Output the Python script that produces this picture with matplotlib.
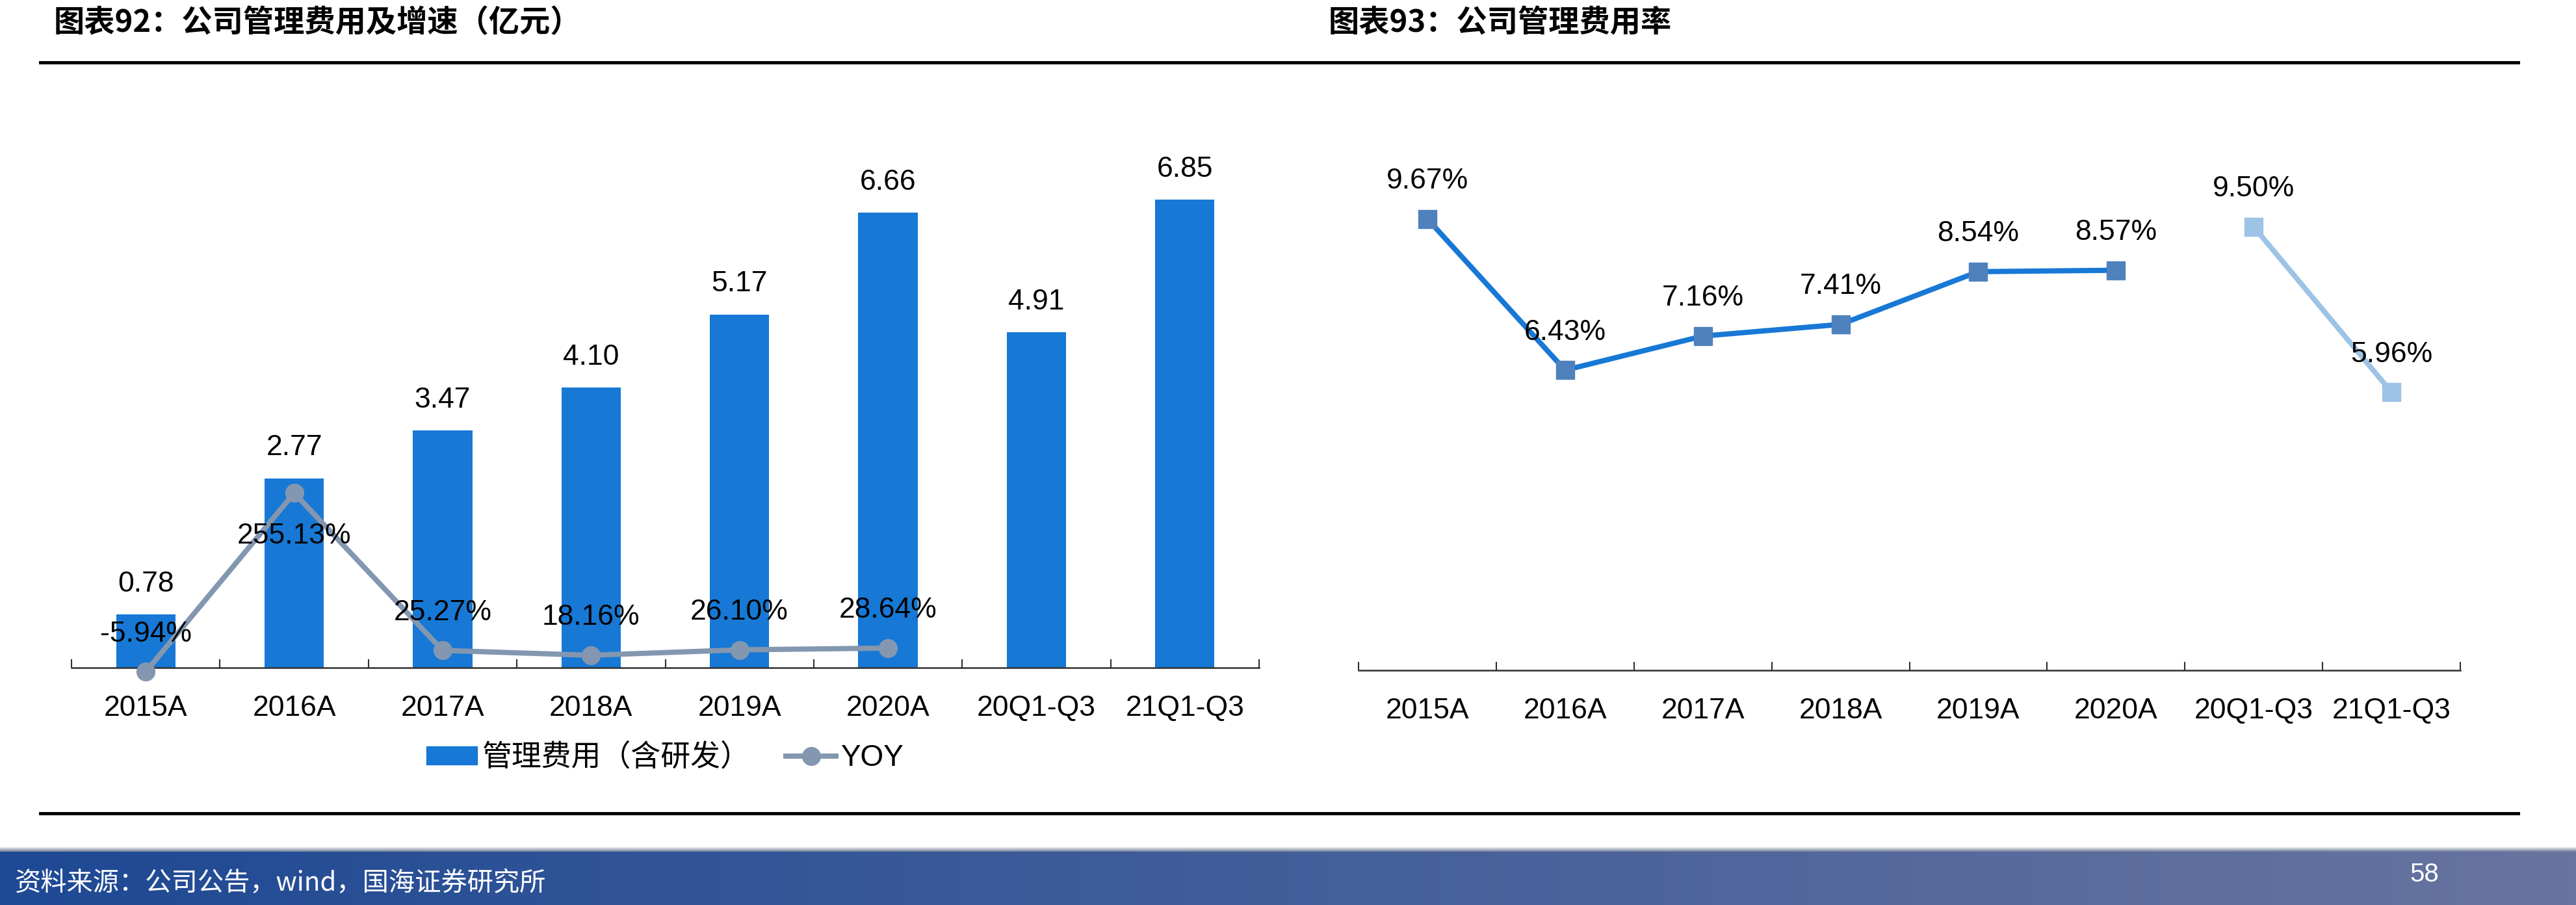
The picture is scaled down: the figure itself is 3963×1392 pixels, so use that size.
import numpy as np
import matplotlib
matplotlib.use("Agg")
import matplotlib.pyplot as plt
from matplotlib.lines import Line2D
from matplotlib.patches import Patch

plt.rcParams['font.family'] = ['Liberation Sans', 'Noto Sans CJK SC', 'DejaVu Sans']

# data
cats = ['2015A', '2016A', '2017A', '2018A', '2019A', '2020A', '20Q1-Q3', '21Q1-Q3']
fee = [0.78, 2.77, 3.47, 4.10, 5.17, 6.66, 4.91, 6.85]          # 亿元
yoy = [-5.94, 255.13, 25.27, 18.16, 26.10, 28.64]               # %
rate_year = [9.67, 6.43, 7.16, 7.41, 8.54, 8.57]                # %
rate_q = [9.50, 5.96]                                           # %

bar_c = '#1778D5'
yoy_c = '#8497B0'
line_c = '#1778D5'
mk_c = '#4F81BD'
light_c = '#9DC3E6'
fs = 32

W, H = 3963, 1392
fig = plt.figure(figsize=(W / 100, H / 100), dpi=100)

def style_axis(ax):
    for s in ['top', 'right', 'left']:
        ax.spines[s].set_visible(False)
    ax.spines['bottom'].set_linewidth(1.8)
    ax.spines['bottom'].set_color('#303030')
    ax.set_yticks([])
    ax.set_xlim(-0.5, len(cats) - 0.5)
    ax.set_xticks(np.arange(-0.5, len(cats)), [''] * (len(cats) + 1))
    ax.tick_params(axis='x', which='major', direction='in', length=9.5, width=1.5, color='#303030')
    ax.set_xticks(np.arange(len(cats)), cats, minor=True)
    ax.tick_params(axis='x', which='minor', length=0, pad=30, labelsize=fs)

# ---- left chart
axL = fig.add_axes([110 / W, 1 - 1027 / H, (1937 - 110) / W, (1027 - 150) / H])
x = np.arange(len(cats))
axL.bar(x, fee, width=0.4, color=bar_c, zorder=1)
axL.set_ylim(0, 877 / 105.1)
style_axis(axL)
for xi, v in zip(x, fee):
    axL.annotate('%.2f' % v, (xi, v), xytext=(0, 19), textcoords='offset points',
                 ha='center', va='bottom', fontsize=fs)

ax2 = axL.twinx()
ax2.set_ylim(0, 877 / 1.053)
ax2.axis('off')
xy = np.arange(len(yoy))
ax2.plot(xy, yoy, color=yoy_c, lw=5.8, marker='o', ms=20, clip_on=False, zorder=3)
for xi, v in zip(xy, yoy):
    if v > 100:
        ax2.annotate('%.2f%%' % v, (xi, v), xytext=(0, -33), textcoords='offset points',
                     ha='center', va='top', fontsize=fs, annotation_clip=False)
    else:
        ax2.annotate('%.2f%%' % v, (xi, v), xytext=(0, 27), textcoords='offset points',
                     ha='center', va='bottom', fontsize=fs, annotation_clip=False)

handles = [Patch(color=bar_c, label='管理费用（含研发）'),
           Line2D([], [], color=yoy_c, lw=5.8, marker='o', ms=20, label='YOY')]
fig.legend(handles=handles, loc='center', bbox_to_anchor=(1023 / W, 1 - 1166 / H), ncol=2,
           frameon=False, fontsize=33, handlelength=1.7, handleheight=0.55,
           handletextpad=0.15, columnspacing=1.2)

# ---- right chart
axR = fig.add_axes([2090 / W, 1 - 1031 / H, (3785 - 2090) / W, (1031 - 150) / H])
axR.set_ylim(0, 881 / 71.8)
style_axis(axR)
xr = np.arange(len(rate_year))
axR.plot(xr, rate_year, color=line_c, lw=5.8, zorder=2)
axR.plot(xr, rate_year, ls='none', marker='s', ms=20, color=mk_c, zorder=3)
xq = np.arange(len(rate_year), len(cats))
axR.plot(xq, rate_q, color=light_c, lw=5.8, marker='s', ms=20, zorder=2)
for xi, v in list(zip(xr, rate_year)) + list(zip(xq, rate_q)):
    axR.annotate('%.2f%%' % v, (xi, v), xytext=(0, 27), textcoords='offset points',
                 ha='center', va='bottom', fontsize=fs)

# ---- titles and rules
fig.text(83 / W, 1 - 35 / H, '图表92：公司管理费用及增速（亿元）', fontsize=34, fontweight='bold',
         va='center', ha='left', family=['Noto Sans CJK SC', 'DejaVu Sans'])
fig.text(2044 / W, 1 - 35 / H, '图表93：公司管理费用率', fontsize=34, fontweight='bold',
         va='center', ha='left', family=['Noto Sans CJK SC', 'DejaVu Sans'])
fig.add_artist(Line2D([62 / W, 3874 / W], [1 - 96 / H] * 2, color='black', lw=3.6))
fig.add_artist(Line2D([62 / W, 3874 / W], [1 - 1251 / H] * 2, color='black', lw=3.6))

# ---- footer band
axF = fig.add_axes([0, 0, 1, 82 / H])
axF.axis('off')
c0 = np.array([30, 73, 148]) / 255
c1 = np.array([104, 116, 160]) / 255
t = np.linspace(0, 1, 400)[None, :, None]
grad = c0 + (c1 - c0) * t
axF.imshow(grad, aspect='auto', extent=[0, 1, 0, 1])
axF.set_xlim(0, 1)
axF.set_ylim(0, 1)
axS = fig.add_axes([0, 82 / H, 1, 8 / H])
axS.axis('off')
s = np.linspace(0, 1, 50)[:, None, None]
sh = s * np.array([1, 1, 1]) + (1 - s) * np.array([0.45, 0.5, 0.6])
axS.imshow(np.repeat(sh, 2, axis=1), aspect='auto', extent=[0, 1, 0, 1], origin='lower')

fig.text(23 / W, 1 - 1358 / H, '资料来源：公司公告，wind，国海证券研究所', color='white', fontsize=29,
         style='italic', va='center', ha='left', family=['Noto Sans CJK SC', 'DejaVu Sans'])
fig.text(3730 / W, 1 - 1345 / H, '58', color='white', fontsize=29, va='center', ha='center')

fig.savefig('out.png', dpi=100)
